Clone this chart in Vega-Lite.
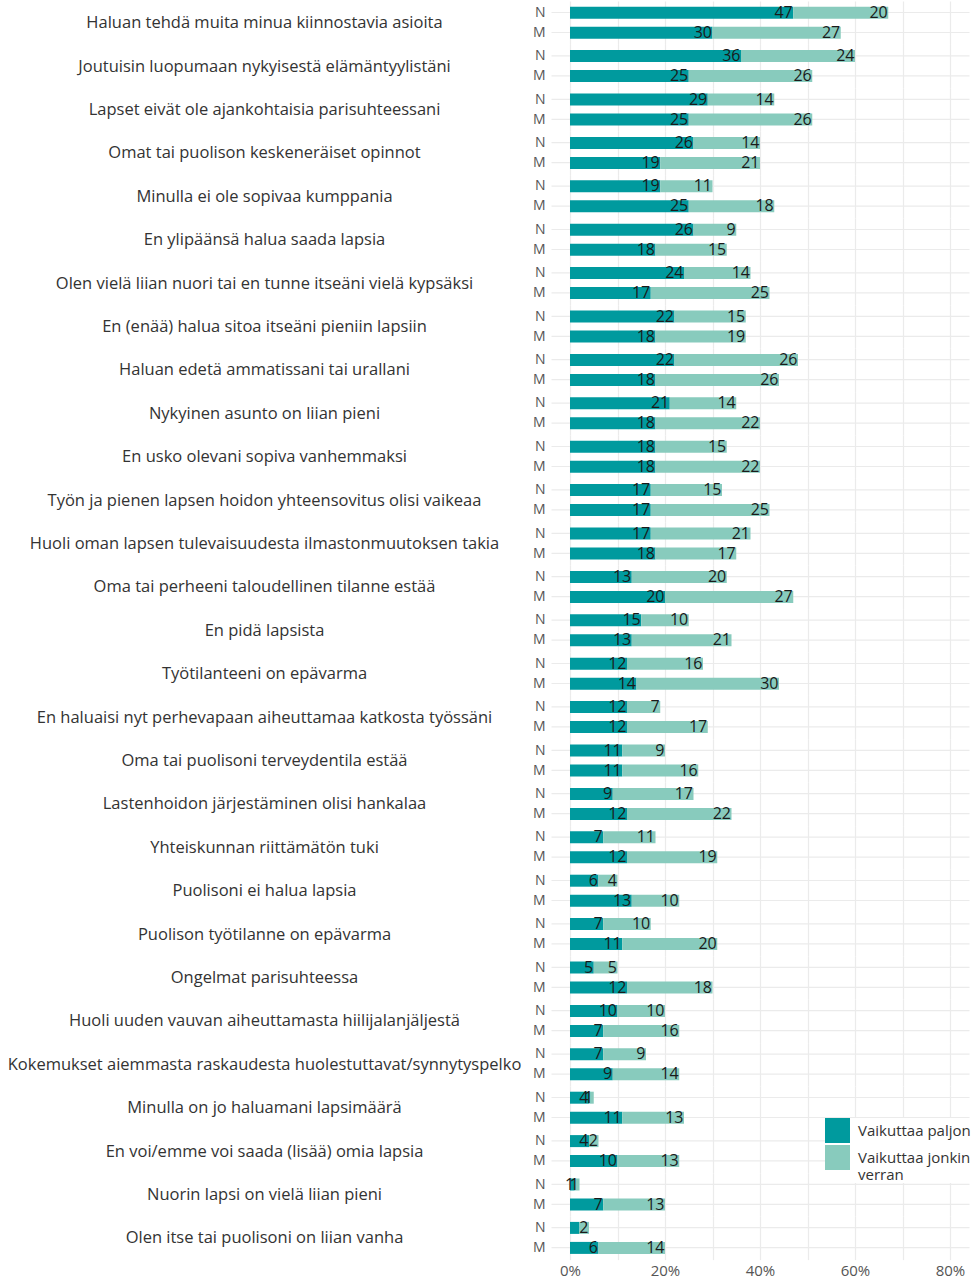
{
  "$schema": "https://vega.github.io/schema/vega-lite/v6.json",
  "background": "white",
  "padding": {"left": 7, "top": 1, "right": 7, "bottom": 4},
  "datasets": {
    "src": [
      {"ord":1,"cat":"Haluan tehdä muita minua kiinnostavia asioita","g":"N","k":"Vaikuttaa paljon","ko":1,"v":47,"lab":"47"},
      {"ord":1,"cat":"Haluan tehdä muita minua kiinnostavia asioita","g":"N","k":"Vaikuttaa jonkin verran","ko":2,"v":20,"lab":"20"},
      {"ord":1,"cat":"Haluan tehdä muita minua kiinnostavia asioita","g":"M","k":"Vaikuttaa paljon","ko":1,"v":30,"lab":"30"},
      {"ord":1,"cat":"Haluan tehdä muita minua kiinnostavia asioita","g":"M","k":"Vaikuttaa jonkin verran","ko":2,"v":27,"lab":"27"},
      {"ord":2,"cat":"Joutuisin luopumaan nykyisestä elämäntyylistäni","g":"N","k":"Vaikuttaa paljon","ko":1,"v":36,"lab":"36"},
      {"ord":2,"cat":"Joutuisin luopumaan nykyisestä elämäntyylistäni","g":"N","k":"Vaikuttaa jonkin verran","ko":2,"v":24,"lab":"24"},
      {"ord":2,"cat":"Joutuisin luopumaan nykyisestä elämäntyylistäni","g":"M","k":"Vaikuttaa paljon","ko":1,"v":25,"lab":"25"},
      {"ord":2,"cat":"Joutuisin luopumaan nykyisestä elämäntyylistäni","g":"M","k":"Vaikuttaa jonkin verran","ko":2,"v":26,"lab":"26"},
      {"ord":3,"cat":"Lapset eivät ole ajankohtaisia parisuhteessani","g":"N","k":"Vaikuttaa paljon","ko":1,"v":29,"lab":"29"},
      {"ord":3,"cat":"Lapset eivät ole ajankohtaisia parisuhteessani","g":"N","k":"Vaikuttaa jonkin verran","ko":2,"v":14,"lab":"14"},
      {"ord":3,"cat":"Lapset eivät ole ajankohtaisia parisuhteessani","g":"M","k":"Vaikuttaa paljon","ko":1,"v":25,"lab":"25"},
      {"ord":3,"cat":"Lapset eivät ole ajankohtaisia parisuhteessani","g":"M","k":"Vaikuttaa jonkin verran","ko":2,"v":26,"lab":"26"},
      {"ord":4,"cat":"Omat tai puolison keskeneräiset opinnot","g":"N","k":"Vaikuttaa paljon","ko":1,"v":26,"lab":"26"},
      {"ord":4,"cat":"Omat tai puolison keskeneräiset opinnot","g":"N","k":"Vaikuttaa jonkin verran","ko":2,"v":14,"lab":"14"},
      {"ord":4,"cat":"Omat tai puolison keskeneräiset opinnot","g":"M","k":"Vaikuttaa paljon","ko":1,"v":19,"lab":"19"},
      {"ord":4,"cat":"Omat tai puolison keskeneräiset opinnot","g":"M","k":"Vaikuttaa jonkin verran","ko":2,"v":21,"lab":"21"},
      {"ord":5,"cat":"Minulla ei ole sopivaa kumppania","g":"N","k":"Vaikuttaa paljon","ko":1,"v":19,"lab":"19"},
      {"ord":5,"cat":"Minulla ei ole sopivaa kumppania","g":"N","k":"Vaikuttaa jonkin verran","ko":2,"v":11,"lab":"11"},
      {"ord":5,"cat":"Minulla ei ole sopivaa kumppania","g":"M","k":"Vaikuttaa paljon","ko":1,"v":25,"lab":"25"},
      {"ord":5,"cat":"Minulla ei ole sopivaa kumppania","g":"M","k":"Vaikuttaa jonkin verran","ko":2,"v":18,"lab":"18"},
      {"ord":6,"cat":"En ylipäänsä halua saada lapsia","g":"N","k":"Vaikuttaa paljon","ko":1,"v":26,"lab":"26"},
      {"ord":6,"cat":"En ylipäänsä halua saada lapsia","g":"N","k":"Vaikuttaa jonkin verran","ko":2,"v":9,"lab":"9"},
      {"ord":6,"cat":"En ylipäänsä halua saada lapsia","g":"M","k":"Vaikuttaa paljon","ko":1,"v":18,"lab":"18"},
      {"ord":6,"cat":"En ylipäänsä halua saada lapsia","g":"M","k":"Vaikuttaa jonkin verran","ko":2,"v":15,"lab":"15"},
      {"ord":7,"cat":"Olen vielä liian nuori tai en tunne itseäni vielä kypsäksi","g":"N","k":"Vaikuttaa paljon","ko":1,"v":24,"lab":"24"},
      {"ord":7,"cat":"Olen vielä liian nuori tai en tunne itseäni vielä kypsäksi","g":"N","k":"Vaikuttaa jonkin verran","ko":2,"v":14,"lab":"14"},
      {"ord":7,"cat":"Olen vielä liian nuori tai en tunne itseäni vielä kypsäksi","g":"M","k":"Vaikuttaa paljon","ko":1,"v":17,"lab":"17"},
      {"ord":7,"cat":"Olen vielä liian nuori tai en tunne itseäni vielä kypsäksi","g":"M","k":"Vaikuttaa jonkin verran","ko":2,"v":25,"lab":"25"},
      {"ord":8,"cat":"En (enää) halua sitoa itseäni pieniin lapsiin","g":"N","k":"Vaikuttaa paljon","ko":1,"v":22,"lab":"22"},
      {"ord":8,"cat":"En (enää) halua sitoa itseäni pieniin lapsiin","g":"N","k":"Vaikuttaa jonkin verran","ko":2,"v":15,"lab":"15"},
      {"ord":8,"cat":"En (enää) halua sitoa itseäni pieniin lapsiin","g":"M","k":"Vaikuttaa paljon","ko":1,"v":18,"lab":"18"},
      {"ord":8,"cat":"En (enää) halua sitoa itseäni pieniin lapsiin","g":"M","k":"Vaikuttaa jonkin verran","ko":2,"v":19,"lab":"19"},
      {"ord":9,"cat":"Haluan edetä ammatissani tai urallani","g":"N","k":"Vaikuttaa paljon","ko":1,"v":22,"lab":"22"},
      {"ord":9,"cat":"Haluan edetä ammatissani tai urallani","g":"N","k":"Vaikuttaa jonkin verran","ko":2,"v":26,"lab":"26"},
      {"ord":9,"cat":"Haluan edetä ammatissani tai urallani","g":"M","k":"Vaikuttaa paljon","ko":1,"v":18,"lab":"18"},
      {"ord":9,"cat":"Haluan edetä ammatissani tai urallani","g":"M","k":"Vaikuttaa jonkin verran","ko":2,"v":26,"lab":"26"},
      {"ord":10,"cat":"Nykyinen asunto on liian pieni","g":"N","k":"Vaikuttaa paljon","ko":1,"v":21,"lab":"21"},
      {"ord":10,"cat":"Nykyinen asunto on liian pieni","g":"N","k":"Vaikuttaa jonkin verran","ko":2,"v":14,"lab":"14"},
      {"ord":10,"cat":"Nykyinen asunto on liian pieni","g":"M","k":"Vaikuttaa paljon","ko":1,"v":18,"lab":"18"},
      {"ord":10,"cat":"Nykyinen asunto on liian pieni","g":"M","k":"Vaikuttaa jonkin verran","ko":2,"v":22,"lab":"22"},
      {"ord":11,"cat":"En usko olevani sopiva vanhemmaksi","g":"N","k":"Vaikuttaa paljon","ko":1,"v":18,"lab":"18"},
      {"ord":11,"cat":"En usko olevani sopiva vanhemmaksi","g":"N","k":"Vaikuttaa jonkin verran","ko":2,"v":15,"lab":"15"},
      {"ord":11,"cat":"En usko olevani sopiva vanhemmaksi","g":"M","k":"Vaikuttaa paljon","ko":1,"v":18,"lab":"18"},
      {"ord":11,"cat":"En usko olevani sopiva vanhemmaksi","g":"M","k":"Vaikuttaa jonkin verran","ko":2,"v":22,"lab":"22"},
      {"ord":12,"cat":"Työn ja pienen lapsen hoidon yhteensovitus olisi vaikeaa","g":"N","k":"Vaikuttaa paljon","ko":1,"v":17,"lab":"17"},
      {"ord":12,"cat":"Työn ja pienen lapsen hoidon yhteensovitus olisi vaikeaa","g":"N","k":"Vaikuttaa jonkin verran","ko":2,"v":15,"lab":"15"},
      {"ord":12,"cat":"Työn ja pienen lapsen hoidon yhteensovitus olisi vaikeaa","g":"M","k":"Vaikuttaa paljon","ko":1,"v":17,"lab":"17"},
      {"ord":12,"cat":"Työn ja pienen lapsen hoidon yhteensovitus olisi vaikeaa","g":"M","k":"Vaikuttaa jonkin verran","ko":2,"v":25,"lab":"25"},
      {"ord":13,"cat":"Huoli oman lapsen tulevaisuudesta ilmastonmuutoksen takia","g":"N","k":"Vaikuttaa paljon","ko":1,"v":17,"lab":"17"},
      {"ord":13,"cat":"Huoli oman lapsen tulevaisuudesta ilmastonmuutoksen takia","g":"N","k":"Vaikuttaa jonkin verran","ko":2,"v":21,"lab":"21"},
      {"ord":13,"cat":"Huoli oman lapsen tulevaisuudesta ilmastonmuutoksen takia","g":"M","k":"Vaikuttaa paljon","ko":1,"v":18,"lab":"18"},
      {"ord":13,"cat":"Huoli oman lapsen tulevaisuudesta ilmastonmuutoksen takia","g":"M","k":"Vaikuttaa jonkin verran","ko":2,"v":17,"lab":"17"},
      {"ord":14,"cat":"Oma tai perheeni taloudellinen tilanne estää","g":"N","k":"Vaikuttaa paljon","ko":1,"v":13,"lab":"13"},
      {"ord":14,"cat":"Oma tai perheeni taloudellinen tilanne estää","g":"N","k":"Vaikuttaa jonkin verran","ko":2,"v":20,"lab":"20"},
      {"ord":14,"cat":"Oma tai perheeni taloudellinen tilanne estää","g":"M","k":"Vaikuttaa paljon","ko":1,"v":20,"lab":"20"},
      {"ord":14,"cat":"Oma tai perheeni taloudellinen tilanne estää","g":"M","k":"Vaikuttaa jonkin verran","ko":2,"v":27,"lab":"27"},
      {"ord":15,"cat":"En pidä lapsista","g":"N","k":"Vaikuttaa paljon","ko":1,"v":15,"lab":"15"},
      {"ord":15,"cat":"En pidä lapsista","g":"N","k":"Vaikuttaa jonkin verran","ko":2,"v":10,"lab":"10"},
      {"ord":15,"cat":"En pidä lapsista","g":"M","k":"Vaikuttaa paljon","ko":1,"v":13,"lab":"13"},
      {"ord":15,"cat":"En pidä lapsista","g":"M","k":"Vaikuttaa jonkin verran","ko":2,"v":21,"lab":"21"},
      {"ord":16,"cat":"Työtilanteeni on epävarma","g":"N","k":"Vaikuttaa paljon","ko":1,"v":12,"lab":"12"},
      {"ord":16,"cat":"Työtilanteeni on epävarma","g":"N","k":"Vaikuttaa jonkin verran","ko":2,"v":16,"lab":"16"},
      {"ord":16,"cat":"Työtilanteeni on epävarma","g":"M","k":"Vaikuttaa paljon","ko":1,"v":14,"lab":"14"},
      {"ord":16,"cat":"Työtilanteeni on epävarma","g":"M","k":"Vaikuttaa jonkin verran","ko":2,"v":30,"lab":"30"},
      {"ord":17,"cat":"En haluaisi nyt perhevapaan aiheuttamaa katkosta työssäni","g":"N","k":"Vaikuttaa paljon","ko":1,"v":12,"lab":"12"},
      {"ord":17,"cat":"En haluaisi nyt perhevapaan aiheuttamaa katkosta työssäni","g":"N","k":"Vaikuttaa jonkin verran","ko":2,"v":7,"lab":"7"},
      {"ord":17,"cat":"En haluaisi nyt perhevapaan aiheuttamaa katkosta työssäni","g":"M","k":"Vaikuttaa paljon","ko":1,"v":12,"lab":"12"},
      {"ord":17,"cat":"En haluaisi nyt perhevapaan aiheuttamaa katkosta työssäni","g":"M","k":"Vaikuttaa jonkin verran","ko":2,"v":17,"lab":"17"},
      {"ord":18,"cat":"Oma tai puolisoni terveydentila estää","g":"N","k":"Vaikuttaa paljon","ko":1,"v":11,"lab":"11"},
      {"ord":18,"cat":"Oma tai puolisoni terveydentila estää","g":"N","k":"Vaikuttaa jonkin verran","ko":2,"v":9,"lab":"9"},
      {"ord":18,"cat":"Oma tai puolisoni terveydentila estää","g":"M","k":"Vaikuttaa paljon","ko":1,"v":11,"lab":"11"},
      {"ord":18,"cat":"Oma tai puolisoni terveydentila estää","g":"M","k":"Vaikuttaa jonkin verran","ko":2,"v":16,"lab":"16"},
      {"ord":19,"cat":"Lastenhoidon järjestäminen olisi hankalaa","g":"N","k":"Vaikuttaa paljon","ko":1,"v":9,"lab":"9"},
      {"ord":19,"cat":"Lastenhoidon järjestäminen olisi hankalaa","g":"N","k":"Vaikuttaa jonkin verran","ko":2,"v":17,"lab":"17"},
      {"ord":19,"cat":"Lastenhoidon järjestäminen olisi hankalaa","g":"M","k":"Vaikuttaa paljon","ko":1,"v":12,"lab":"12"},
      {"ord":19,"cat":"Lastenhoidon järjestäminen olisi hankalaa","g":"M","k":"Vaikuttaa jonkin verran","ko":2,"v":22,"lab":"22"},
      {"ord":20,"cat":"Yhteiskunnan riittämätön tuki","g":"N","k":"Vaikuttaa paljon","ko":1,"v":7,"lab":"7"},
      {"ord":20,"cat":"Yhteiskunnan riittämätön tuki","g":"N","k":"Vaikuttaa jonkin verran","ko":2,"v":11,"lab":"11"},
      {"ord":20,"cat":"Yhteiskunnan riittämätön tuki","g":"M","k":"Vaikuttaa paljon","ko":1,"v":12,"lab":"12"},
      {"ord":20,"cat":"Yhteiskunnan riittämätön tuki","g":"M","k":"Vaikuttaa jonkin verran","ko":2,"v":19,"lab":"19"},
      {"ord":21,"cat":"Puolisoni ei halua lapsia","g":"N","k":"Vaikuttaa paljon","ko":1,"v":6,"lab":"6"},
      {"ord":21,"cat":"Puolisoni ei halua lapsia","g":"N","k":"Vaikuttaa jonkin verran","ko":2,"v":4,"lab":"4"},
      {"ord":21,"cat":"Puolisoni ei halua lapsia","g":"M","k":"Vaikuttaa paljon","ko":1,"v":13,"lab":"13"},
      {"ord":21,"cat":"Puolisoni ei halua lapsia","g":"M","k":"Vaikuttaa jonkin verran","ko":2,"v":10,"lab":"10"},
      {"ord":22,"cat":"Puolison työtilanne on epävarma","g":"N","k":"Vaikuttaa paljon","ko":1,"v":7,"lab":"7"},
      {"ord":22,"cat":"Puolison työtilanne on epävarma","g":"N","k":"Vaikuttaa jonkin verran","ko":2,"v":10,"lab":"10"},
      {"ord":22,"cat":"Puolison työtilanne on epävarma","g":"M","k":"Vaikuttaa paljon","ko":1,"v":11,"lab":"11"},
      {"ord":22,"cat":"Puolison työtilanne on epävarma","g":"M","k":"Vaikuttaa jonkin verran","ko":2,"v":20,"lab":"20"},
      {"ord":23,"cat":"Ongelmat parisuhteessa","g":"N","k":"Vaikuttaa paljon","ko":1,"v":5,"lab":"5"},
      {"ord":23,"cat":"Ongelmat parisuhteessa","g":"N","k":"Vaikuttaa jonkin verran","ko":2,"v":5,"lab":"5"},
      {"ord":23,"cat":"Ongelmat parisuhteessa","g":"M","k":"Vaikuttaa paljon","ko":1,"v":12,"lab":"12"},
      {"ord":23,"cat":"Ongelmat parisuhteessa","g":"M","k":"Vaikuttaa jonkin verran","ko":2,"v":18,"lab":"18"},
      {"ord":24,"cat":"Huoli uuden vauvan aiheuttamasta hiilijalanjäljestä","g":"N","k":"Vaikuttaa paljon","ko":1,"v":10,"lab":"10"},
      {"ord":24,"cat":"Huoli uuden vauvan aiheuttamasta hiilijalanjäljestä","g":"N","k":"Vaikuttaa jonkin verran","ko":2,"v":10,"lab":"10"},
      {"ord":24,"cat":"Huoli uuden vauvan aiheuttamasta hiilijalanjäljestä","g":"M","k":"Vaikuttaa paljon","ko":1,"v":7,"lab":"7"},
      {"ord":24,"cat":"Huoli uuden vauvan aiheuttamasta hiilijalanjäljestä","g":"M","k":"Vaikuttaa jonkin verran","ko":2,"v":16,"lab":"16"},
      {"ord":25,"cat":"Kokemukset aiemmasta raskaudesta huolestuttavat/synnytyspelko","g":"N","k":"Vaikuttaa paljon","ko":1,"v":7,"lab":"7"},
      {"ord":25,"cat":"Kokemukset aiemmasta raskaudesta huolestuttavat/synnytyspelko","g":"N","k":"Vaikuttaa jonkin verran","ko":2,"v":9,"lab":"9"},
      {"ord":25,"cat":"Kokemukset aiemmasta raskaudesta huolestuttavat/synnytyspelko","g":"M","k":"Vaikuttaa paljon","ko":1,"v":9,"lab":"9"},
      {"ord":25,"cat":"Kokemukset aiemmasta raskaudesta huolestuttavat/synnytyspelko","g":"M","k":"Vaikuttaa jonkin verran","ko":2,"v":14,"lab":"14"},
      {"ord":26,"cat":"Minulla on jo haluamani lapsimäärä","g":"N","k":"Vaikuttaa paljon","ko":1,"v":4,"lab":"4"},
      {"ord":26,"cat":"Minulla on jo haluamani lapsimäärä","g":"N","k":"Vaikuttaa jonkin verran","ko":2,"v":1,"lab":"1"},
      {"ord":26,"cat":"Minulla on jo haluamani lapsimäärä","g":"M","k":"Vaikuttaa paljon","ko":1,"v":11,"lab":"11"},
      {"ord":26,"cat":"Minulla on jo haluamani lapsimäärä","g":"M","k":"Vaikuttaa jonkin verran","ko":2,"v":13,"lab":"13"},
      {"ord":27,"cat":"En voi/emme voi saada (lisää) omia lapsia","g":"N","k":"Vaikuttaa paljon","ko":1,"v":4,"lab":"4"},
      {"ord":27,"cat":"En voi/emme voi saada (lisää) omia lapsia","g":"N","k":"Vaikuttaa jonkin verran","ko":2,"v":2,"lab":"2"},
      {"ord":27,"cat":"En voi/emme voi saada (lisää) omia lapsia","g":"M","k":"Vaikuttaa paljon","ko":1,"v":10,"lab":"10"},
      {"ord":27,"cat":"En voi/emme voi saada (lisää) omia lapsia","g":"M","k":"Vaikuttaa jonkin verran","ko":2,"v":13,"lab":"13"},
      {"ord":28,"cat":"Nuorin lapsi on vielä liian pieni","g":"N","k":"Vaikuttaa paljon","ko":1,"v":1,"lab":"1"},
      {"ord":28,"cat":"Nuorin lapsi on vielä liian pieni","g":"N","k":"Vaikuttaa jonkin verran","ko":2,"v":1,"lab":"1"},
      {"ord":28,"cat":"Nuorin lapsi on vielä liian pieni","g":"M","k":"Vaikuttaa paljon","ko":1,"v":7,"lab":"7"},
      {"ord":28,"cat":"Nuorin lapsi on vielä liian pieni","g":"M","k":"Vaikuttaa jonkin verran","ko":2,"v":13,"lab":"13"},
      {"ord":29,"cat":"Olen itse tai puolisoni on liian vanha","g":"N","k":"Vaikuttaa paljon","ko":1,"v":2,"lab":""},
      {"ord":29,"cat":"Olen itse tai puolisoni on liian vanha","g":"N","k":"Vaikuttaa jonkin verran","ko":2,"v":2,"lab":"2"},
      {"ord":29,"cat":"Olen itse tai puolisoni on liian vanha","g":"M","k":"Vaikuttaa paljon","ko":1,"v":6,"lab":"6"},
      {"ord":29,"cat":"Olen itse tai puolisoni on liian vanha","g":"M","k":"Vaikuttaa jonkin verran","ko":2,"v":14,"lab":"14"}
    ]
  },
  "data": {"name": "src"},
  "facet": {
    "row": {
      "field": "cat",
      "type": "nominal",
      "sort": {"field": "ord", "op": "min"},
      "title": null,
      "header": {"labels": false}
    }
  },
  "spacing": -0.6,
  "resolve": {"scale": {"y": "independent"}},
  "spec": {
    "width": 418,
    "height": 43.4,
    "layer": [
      {
        "mark": {"type": "point", "opacity": 0},
        "encoding": {
          "y": {
            "field": "cat",
            "type": "nominal",
            "scale": {"paddingInner": 0, "paddingOuter": 0},
            "axis": {
              "orient": "left",
              "title": null,
              "ticks": false,
              "domain": false,
              "grid": false,
              "labelAlign": "center",
              "labelPadding": 287,
              "labelLimit": 700,
              "labelFont": "Open Sans",
              "labelFontSize": 16.5,
              "labelColor": "#333333"
            }
          }
        }
      },
      {
        "encoding": {
          "y": {
            "field": "g",
            "type": "nominal",
            "sort": ["N", "M"],
            "scale": {"paddingInner": 0.4, "paddingOuter": 0.285},
            "axis": {
              "orient": "left",
              "title": null,
              "ticks": false,
              "domain": false,
              "labelPadding": 6,
              "bandPosition": 0.5,
              "grid": true,
              "gridColor": "#ebebeb",
              "gridWidth": 1.2,
              "labelFont": "Open Sans",
              "labelFontSize": 14,
              "labelColor": "#555555"
            }
          },
          "x": {
            "field": "v",
            "type": "quantitative",
            "stack": "zero",
            "scale": {"domain": [-4, 84], "nice": false, "zero": false},
            "axis": {
              "title": null,
              "values": [0, 10, 20, 30, 40, 50, 60, 70, 80],
              "labelExpr": "datum.value % 20 == 0 ? datum.value + '%' : ''",
              "ticks": false,
              "domain": false,
              "grid": true,
              "gridColor": "#ebebeb",
              "gridWidth": 1.2,
              "labelFont": "Open Sans",
              "labelFontSize": 15,
              "labelColor": "#555555",
              "labelPadding": 3
            }
          },
          "order": {"field": "ko", "type": "quantitative"}
        },
        "layer": [
          {
            "mark": {"type": "bar"},
            "encoding": {
              "color": {
                "field": "k",
                "type": "nominal",
                "title": null,
                "scale": {
                  "domain": ["Vaikuttaa paljon", "Vaikuttaa jonkin verran"],
                  "range": ["#009A9E", "#88CBBD"]
                },
                "legend": {
                  "orient": "none",
                  "legendX": 274,
                  "legendY": 1117,
                  "symbolType": "square",
                  "symbolSize": 625,
                  "symbolStrokeWidth": 0,
                  "symbolOpacity": 1,
                  "labelFont": "Open Sans",
                  "labelFontSize": 15,
                  "labelLineHeight": 15,
                  "labelColor": "#333333",
                  "labelOffset": 8,
                  "labelLimit": 200,
                  "rowPadding": 2,
                  "fillColor": "white",
                  "padding": 0,
                  "labelExpr": "datum.label == 'Vaikuttaa jonkin verran' ? ['Vaikuttaa jonkin', 'verran'] : datum.label"
                }
              }
            }
          },
          {
            "mark": {"type": "text", "align": "right", "baseline": "middle", "dx": -0.5, "font": "Open Sans", "fontSize": 16, "color": "#1a1a1a"},
            "encoding": {
              "detail": {"field": "k", "type": "nominal"},
              "text": {"field": "lab", "type": "nominal"}
            }
          }
        ]
      }
    ],
    "resolve": {"scale": {"y": "independent"}, "axis": {"y": "independent"}}
  },
  "config": {
    "view": {"stroke": null}
  }
}
